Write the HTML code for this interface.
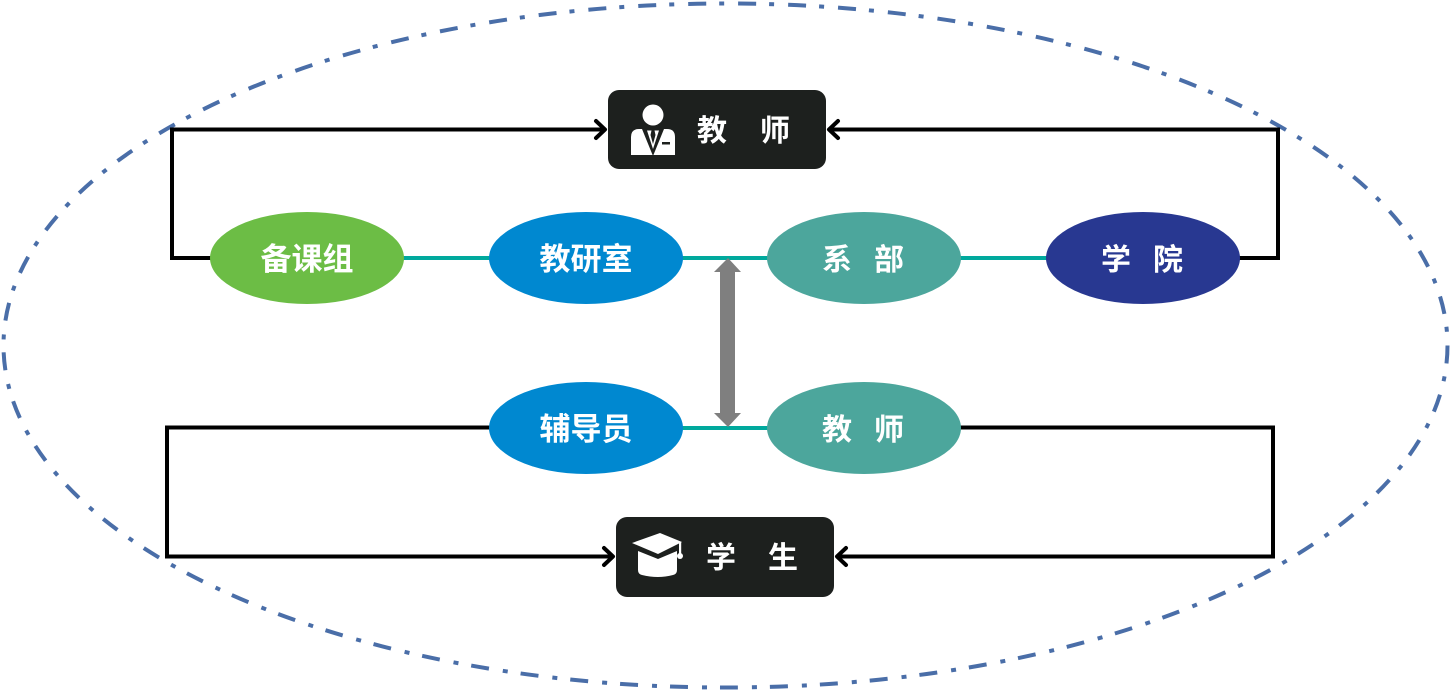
<!DOCTYPE html>
<html>
<head>
<meta charset="utf-8">
<style>
  html, body { margin:0; padding:0; background:#ffffff; }
  body { width:1451px; height:690px; overflow:hidden; }
  svg { display:block; }
  .lbl { font-family: "Liberation Sans", "Noto Sans CJK SC", "WenQuanYi Zen Hei", sans-serif; font-weight:700; fill:#ffffff; }
</style>
</head>
<body>
<svg width="1451" height="690" viewBox="0 0 1451 690" xmlns="http://www.w3.org/2000/svg">
  <!-- outer dash-dot ellipse -->
  <ellipse cx="725.5" cy="345.5" rx="722" ry="342" fill="none" stroke="#4a6ea8" stroke-width="4" stroke-dasharray="18 13 5 14"/>

  <!-- black connectors -->
  <g fill="none" stroke="#000" stroke-width="4" stroke-linejoin="miter">
    <polyline points="212,258 172,258 172,129.5 605,129.5"/>
    <polyline points="1238,258 1278,258 1278,129.5 829,129.5"/>
    <polyline points="491,427.5 167,427.5 167,556.5 613,556.5"/>
    <polyline points="959,427.5 1273,427.5 1273,556.5 837,556.5"/>
  </g>
  <g fill="none" stroke="#000" stroke-width="4" stroke-linecap="round" stroke-linejoin="round">
    <polyline points="596,121 605,129.5 596,138"/>
    <polyline points="838,121 829,129.5 838,138"/>
    <polyline points="604,548 613,556.5 604,565"/>
    <polyline points="846,548 837,556.5 846,565"/>
  </g>

  <!-- teal lines -->
  <line x1="400" y1="258" x2="1050" y2="258" stroke="#00a99d" stroke-width="4"/>
  <line x1="680" y1="428" x2="770" y2="428" stroke="#00a99d" stroke-width="4"/>

  <!-- gray double arrow -->
  <polygon points="728,258 741,272 735,272 735,413 741,413 728,427 714,413 720,413 720,272 714,272" fill="#7f7f7f"/>

  <!-- top ellipses -->
  <ellipse cx="307" cy="258" rx="97" ry="46" fill="#6cbd45"/>
  <ellipse cx="586" cy="258" rx="97" ry="46" fill="#0088d0"/>
  <ellipse cx="864" cy="258" rx="97" ry="46" fill="#4ca69c"/>
  <ellipse cx="1143" cy="258" rx="97" ry="46" fill="#283891"/>
  <!-- bottom ellipses -->
  <ellipse cx="586" cy="428" rx="97" ry="46" fill="#0088d0"/>
  <ellipse cx="864" cy="428" rx="97" ry="46" fill="#4ca69c"/>

  <!-- ellipse labels -->
  <text class="lbl" x="307" y="270" font-size="31" text-anchor="middle">备课组</text>
  <text class="lbl" x="586" y="270" font-size="31" text-anchor="middle">教研室</text>
  <text class="lbl" x="837" y="270" font-size="30" text-anchor="middle">系</text>
  <text class="lbl" x="889" y="270" font-size="30" text-anchor="middle">部</text>
  <text class="lbl" x="1116" y="270" font-size="30" text-anchor="middle">学</text>
  <text class="lbl" x="1168" y="270" font-size="30" text-anchor="middle">院</text>
  <text class="lbl" x="586" y="440" font-size="31" text-anchor="middle">辅导员</text>
  <text class="lbl" x="837" y="440" font-size="30" text-anchor="middle">教</text>
  <text class="lbl" x="889" y="440" font-size="30" text-anchor="middle">师</text>

  <!-- teacher box -->
  <rect x="608" y="90" width="218" height="79" rx="11" ry="11" fill="#1d201e"/>
  <g fill="#ffffff">
    <circle cx="653" cy="115" r="10.5"/>
    <path d="M631,137 Q631,129 639,129 L667,129 Q675,129 675,137 L675,155 L631,155 Z"/>
  </g>
  <polygon points="642,129 664,129 653,156" fill="#1d201e"/>
  <polygon points="647,130.5 659,130.5 653,149" fill="#ffffff"/>
  <polygon points="651.5,130.5 654.5,130.5 655.5,135 653,144 650.5,135" fill="#1d201e"/>
  <rect x="662" y="142" width="8" height="2.5" fill="#1d201e"/>
  <text class="lbl" x="712" y="141" font-size="30" text-anchor="middle">教</text>
  <text class="lbl" x="775" y="141" font-size="30" text-anchor="middle">师</text>

  <!-- student box -->
  <rect x="616" y="517" width="218" height="80" rx="11" ry="11" fill="#1d201e"/>
  <g fill="#ffffff">
    <path d="M638,551 L658,559 L677,551 L677,570 Q677,574 673,575 Q658,579 642,575 Q638,574 638,570 Z"/>
    <polygon points="632,543 660,533 682,542 658,554"/>
    <rect x="679" y="542" width="2.2" height="12"/>
    <circle cx="680" cy="556" r="3"/>
  </g>
  <text class="lbl" x="721" y="568" font-size="30" text-anchor="middle">学</text>
  <text class="lbl" x="783" y="568" font-size="30" text-anchor="middle">生</text>
</svg>
</body>
</html>
